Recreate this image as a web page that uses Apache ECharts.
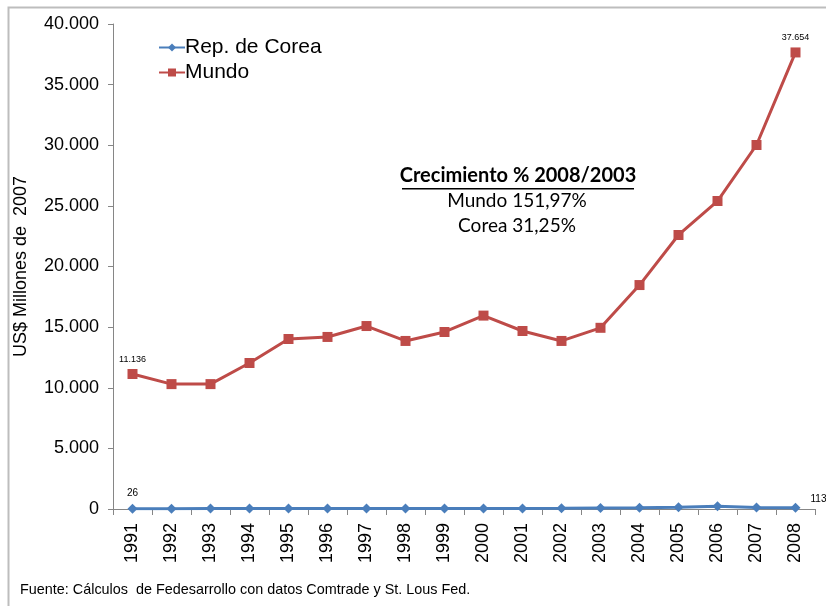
<!DOCTYPE html>
<html>
<head>
<meta charset="utf-8">
<script src="https://cdn.jsdelivr.net/npm/echarts@6/dist/echarts.min.js"></script>
<style>
  html, body { margin: 0; padding: 0; background: #fff; }
  #main { width: 826px; height: 606px; }
</style>
</head>
<body>
<div id="main"></div>
<script>
// datos del gráfico
var years = ['1991', '1992', '1993', '1994', '1995', '1996', '1997', '1998', '1999',
             '2000', '2001', '2002', '2003', '2004', '2005', '2006', '2007', '2008'];
var corea = [26, 30, 35, 40, 50, 50, 45, 40, 45, 50, 45, 55, 86, 110, 140, 230, 120, 113];
var mundo = [11136, 10300, 10300, 12040, 14020, 14190, 15090, 13860, 14600,
             15950, 14680, 13860, 14944, 18470, 22600, 25400, 30020, 37654];

function miles(v) {
    return String(Math.round(v)).replace(/\B(?=(\d{3})+(?!\d))/g, '.');
}

var myChart = echarts.init(document.getElementById('main'));

var option = {
    animation: false,
    backgroundColor: '#fff',
    textStyle: { fontFamily: 'Liberation Sans, Arial, sans-serif' },
    grid: { left: 113, right: 11, top: 24, bottom: 97, outerBoundsMode: 'none', containLabel: false },
    legend: {
        left: 153, top: 32,
        orient: 'vertical',
        itemGap: 4,
        itemWidth: 26, itemHeight: 10,
        textStyle: { fontSize: 21, color: '#000', padding: [0, 0, 0, -5] },
        data: ['Rep. de Corea', 'Mundo']
    },
    xAxis: {
        type: 'category',
        data: years,
        boundaryGap: true,
        axisLine: { lineStyle: { color: '#868686' } },
        axisTick: { show: true, length: 6, lineStyle: { color: '#868686' } },
        axisLabel: { rotate: 90, fontSize: 18, color: '#000', margin: 14 }
    },
    yAxis: {
        type: 'value',
        min: 0, max: 40000, interval: 5000,
        name: 'US$ Millones de  2007',
        nameLocation: 'middle',
        nameGap: 83,
        nameTextStyle: { fontSize: 18, color: '#000', padding: [0, 0, 0, 0] },
        axisLine: { show: true, lineStyle: { color: '#868686' } },
        axisTick: { show: true, length: 5, lineStyle: { color: '#868686' } },
        splitLine: { show: false },
        axisLabel: { fontSize: 18, color: '#000', margin: 14, formatter: miles }
    },
    series: [
        {
            name: 'Rep. de Corea',
            type: 'line',
            data: corea,
            symbol: 'diamond',
            symbolSize: 10,
            color: '#4a7ebb',
            lineStyle: { width: 3, color: '#4a7ebb' },
            label: {
                show: true,
                fontSize: 10,
                color: '#000',
                formatter: function (p) {
                    return (p.dataIndex === 0 || p.dataIndex === years.length - 1) ? String(p.value) : '';
                },
                position: 'top'
            },
            labelLayout: function (params) {
                if (params.dataIndex === years.length - 1) {
                    return { x: params.rect.x + 20, y: params.rect.y - 8 };
                }
                return {};
            }
        },
        {
            name: 'Mundo',
            type: 'line',
            data: mundo,
            symbol: 'rect',
            symbolSize: 10,
            color: '#be4b48',
            lineStyle: { width: 3, color: '#be4b48' },
            label: {
                show: true,
                fontSize: 9,
                color: '#000',
                position: 'top',
                distance: 5,
                formatter: function (p) {
                    return (p.dataIndex === 0 || p.dataIndex === years.length - 1) ? miles(p.value) : '';
                }
            }
        }
    ],
    graphic: [
        {
            type: 'rect',
            shape: { x: 8.5, y: 7.5, width: 900, height: 700 },
            style: { fill: 'none', stroke: '#bdbdbd', lineWidth: 2 },
            silent: true
        },
        {
            type: 'text',
            style: { x: 518, y: 166, align: 'center', text: 'Crecimiento % 2008/2003', fontSize: 20, fontWeight: 'bold', fontFamily: 'Lato', fill: '#000' }
        },
        {
            type: 'rect', shape: { x: 402, y: 188, width: 232, height: 1.5 },
            style: { fill: '#000' }
        },
        {
            type: 'text',
            style: { x: 517, y: 191, align: 'center', text: 'Mundo 151,97%', fontSize: 19, fontFamily: 'Lato', fill: '#000' }
        },
        {
            type: 'text',
            style: { x: 517, y: 216, align: 'center', text: 'Corea 31,25%', fontSize: 19, fontFamily: 'Lato', fill: '#000' }
        },
        {
            type: 'text',
            style: { x: 20, y: 583, text: 'Fuente: Cálculos  de Fedesarrollo con datos Comtrade y St. Lous Fed.', fontSize: 14.4, fill: '#000' }
        }
    ]
};

myChart.setOption(option);
</script>
</body>
</html>
